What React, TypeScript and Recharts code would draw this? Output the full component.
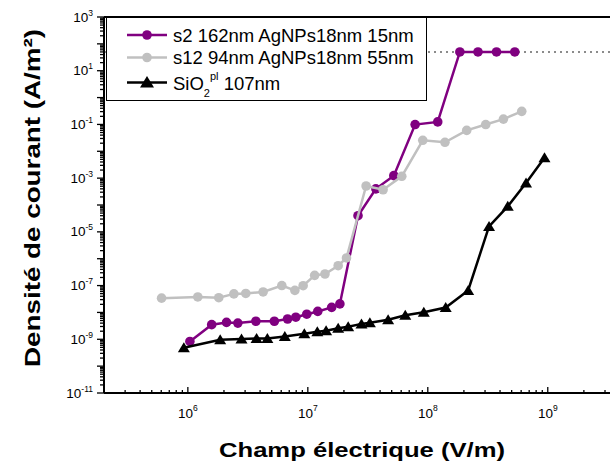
import React from 'react';
import { ScatterChart, Scatter, XAxis, YAxis, ReferenceLine, Legend } from 'recharts';

// ---- data ----
const s2Field = [1.04e6, 1.58e6, 2.1e6, 2.61e6, 3.69e6, 5.26e6, 6.78e6, 7.94e6, 9.8e6, 1.21e7, 1.58e7, 1.85e7, 2.62e7, 3.69e7, 5.21e7, 7.84e7, 1.21e8, 1.85e8, 2.62e8, 3.74e8, 5.31e8];
const s2Density = [8.3e-10, 3.5e-9, 4.25e-9, 4.0e-9, 4.7e-9, 4.7e-9, 5.7e-9, 6.65e-9, 8.6e-9, 1.09e-8, 1.54e-8, 2.08e-8, 4.0e-5, 4.0e-4, 1.24e-3, 0.099, 0.124, 50, 50, 50, 50];

const s12Field = [6.04e5, 1.21e6, 1.81e6, 2.42e6, 3.04e6, 4.24e6, 6.07e6, 7.8e6, 9.14e6, 1.14e7, 1.39e7, 1.79e7, 2.1e7, 3.06e7, 4.24e7, 6.07e7, 9.08e7, 1.39e8, 2.11e8, 3.04e8, 4.27e8, 6.07e8];
const s12Density = [3.4e-8, 3.76e-8, 3.54e-8, 4.9e-8, 5.1e-8, 5.8e-8, 1.0e-7, 6.6e-8, 9.9e-8, 2.4e-7, 2.7e-7, 5.5e-7, 1.07e-6, 5.1e-4, 3.7e-4, 1.17e-3, 0.0257, 0.0216, 0.06, 0.099, 0.158, 0.307];

const sio2Field = [9.26e5, 1.86e6, 2.8e6, 3.74e6, 4.6e6, 6.43e6, 9.35e6, 1.2e7, 1.42e7, 1.79e7, 2.17e7, 2.8e7, 3.29e7, 4.67e7, 6.49e7, 9.26e7, 1.41e8, 2.17e8, 3.24e8, 4.64e8, 6.59e8, 9.39e8];
const sio2Density = [4.85e-10, 9.6e-10, 1.03e-9, 1.08e-9, 1.08e-9, 1.28e-9, 1.61e-9, 1.91e-9, 2.09e-9, 2.59e-9, 2.94e-9, 3.74e-9, 4.15e-9, 5.37e-9, 7.9e-9, 1.02e-8, 1.53e-8, 6.6e-8, 1.6e-5, 8.9e-5, 6.65e-4, 5.7e-3];

const saturationLevel = 50;

const seriesNames = ['s2 162nm AgNPs18nm 15nm', 's12 94nm AgNPs18nm 55nm', 'SiO2pl 107nm'];

const xDomain = [2e5, 4e9];
const yDomain = [1e-11, 1e3];
const xDecadeExps = [5, 6, 7, 8, 9];
const yDecadeExps = [-11, -10, -9, -8, -7, -6, -5, -4, -3, -2, -1, 0, 1, 2, 3];
const xLabelExps = [6, 7, 8, 9];
const yLabelExps = [-11, -9, -7, -5, -3, -1, 1, 3];
const minorMultipliers = [1, 2, 3, 4, 5, 6, 7, 8, 9];

const xTicks = xDecadeExps.flatMap((e) => minorMultipliers.map((m) => m * Math.pow(10, e))).filter((v) => v >= xDomain[0] && v <= xDomain[1]);
const yTicks = yDecadeExps.flatMap((e) => minorMultipliers.map((m) => m * Math.pow(10, e))).filter((v) => v >= yDomain[0] * 0.999 && v <= yDomain[1] * 1.001);

const toRows = (xs: number[], ys: number[]) => xs.map((x, i) => ({ x, y: ys[i] }));
const s2Data = toRows(s2Field, s2Density);
const s12Data = toRows(s12Field, s12Density);
const sio2Data = toRows(sio2Field, sio2Density);

const FONT = '"Liberation Sans", Arial, Helvetica, sans-serif';
const PURPLE = '#800080';
const GRAY = '#c0c0c0';

const decadeOf = (v: number) => {
  const e = Math.round(Math.log10(v));
  return Math.abs(v - Math.pow(10, e)) / v < 1e-6 ? e : null;
};

const XTick = (props: any) => {
  const { x, y, payload } = props;
  const e = decadeOf(payload.value);
  const major = e !== null;
  return (
    <g>
      <line x1={x} x2={x} y1={y} y2={y - (major ? 6 : 3)} stroke="#000" strokeWidth={1.3} />
      {major && xLabelExps.includes(e as number) && (
        <text x={x} y={y + 25} textAnchor="middle" fontFamily={FONT} fontSize={13.5} fill="#000">
          10<tspan dy={-7} fontSize={8.5}>{e}</tspan>
        </text>
      )}
    </g>
  );
};

const YTick = (props: any) => {
  const { x, y, payload } = props;
  const e = decadeOf(payload.value);
  const major = e !== null;
  return (
    <g>
      <line x1={x} x2={x - (major ? 7 : 4)} y1={y} y2={y} stroke="#000" strokeWidth={1.3} />
      {major && yLabelExps.includes(e as number) && (
        <text x={x - 11} y={y + 4.5} textAnchor="end" fontFamily={FONT} fontSize={13.5} fill="#000">
          10<tspan dy={-6} fontSize={8.5}>{e}</tspan>
        </text>
      )}
    </g>
  );
};

const LegendBox = () => {
  const rows = [18, 40.5, 65.5];
  return (
    <svg width={322} height={84} style={{ display: 'block' }}>
      <rect x={0.5} y={0.5} width={320} height={83} fill="#fff" stroke="#000" strokeWidth={1} />
      <line x1={21} x2={61} y1={rows[0]} y2={rows[0]} stroke={PURPLE} strokeWidth={2.5} />
      <circle cx={41} cy={rows[0]} r={4.8} fill={PURPLE} />
      <text x={67} y={rows[0] + 6.5} fontFamily={FONT} fontSize={18.5} fill="#000">{seriesNames[0]}</text>
      <line x1={21} x2={61} y1={rows[1]} y2={rows[1]} stroke={GRAY} strokeWidth={2.5} />
      <circle cx={41} cy={rows[1]} r={4.8} fill={GRAY} />
      <text x={67} y={rows[1] + 6.5} fontFamily={FONT} fontSize={18.5} fill="#000">{seriesNames[1]}</text>
      <line x1={21} x2={61} y1={rows[2]} y2={rows[2]} stroke="#000" strokeWidth={2.5} />
      <polygon points={`41,${rows[2] - 6.5} ${34},${rows[2] + 5} ${48},${rows[2] + 5}`} fill="#000" />
      <text x={67} y={rows[2] + 7.5} fontFamily={FONT} fontSize={18.5} fill="#000">
        SiO<tspan dy={7} fontSize={11}>2</tspan>
        <tspan dy={-17} fontSize={11}>pl</tspan>
        <tspan dy={10} fontSize={18.5}> 107nm</tspan>
      </text>
    </svg>
  );
};

const circleShape = (color: string) => (p: any) => <circle cx={p.cx} cy={p.cy} r={4.8} fill={color} />;
const triangleShape = (p: any) => (
  <polygon points={`${p.cx},${p.cy - 5.5} ${p.cx - 6},${p.cy + 4.5} ${p.cx + 6},${p.cy + 4.5}`} fill="#000" />
);

export default function App() {
  return (
    <div style={{ position: 'fixed', left: 0, top: 0, width: 610, height: 467, overflow: 'hidden', background: '#fff' }}>
      <ScatterChart width={640} height={467} margin={{ top: 17, right: 20, bottom: 0, left: 0 }}>
        <XAxis
          type="number"
          dataKey="x"
          scale="log"
          domain={xDomain}
          ticks={xTicks}
          interval={0}
          allowDataOverflow
          tickLine={false}
          tickSize={0}
          tickMargin={0}
          tick={<XTick />}
          axisLine={{ stroke: '#000', strokeWidth: 2 }}
          height={74}
          label={{
            content: (p: any) => {
              const vb = p.viewBox || { x: 104, y: 393, width: 516 };
              return (
                <text x={vb.x + vb.width / 2} y={vb.y + 64} textAnchor="middle" fontFamily={FONT} fontWeight="bold" fontSize={21} fill="#000" textLength={286} lengthAdjust="spacingAndGlyphs">
                  Champ électrique (V/m)
                </text>
              );
            },
          }}
        />
        <YAxis
          type="number"
          dataKey="y"
          scale="log"
          domain={yDomain}
          ticks={yTicks}
          interval={0}
          allowDataOverflow
          tickLine={false}
          tickSize={0}
          tickMargin={0}
          tick={<YTick />}
          axisLine={{ stroke: '#000', strokeWidth: 2 }}
          width={104}
          label={{
            content: (p: any) => {
              const vb = p.viewBox || { x: 0, y: 17, width: 104, height: 376 };
              const cy = vb.y + vb.height / 2 - 7;
              return (
                <text x={40} y={cy} transform={`rotate(-90, 40, ${cy})`} textAnchor="middle" fontFamily={FONT} fontWeight="bold" fontSize={22} fill="#000" textLength={338} lengthAdjust="spacingAndGlyphs">
                  Densité de courant (A/m²)
                </text>
              );
            },
          }}
        />
        <ReferenceLine y={yDomain[1]} stroke="#000" strokeWidth={2} />
        <ReferenceLine y={saturationLevel} stroke="#666" strokeWidth={1.5} strokeDasharray="2 4" />
        <Scatter name={seriesNames[0]} data={s2Data} fill={PURPLE} line={{ stroke: PURPLE, strokeWidth: 2.5 }} shape={circleShape(PURPLE)} isAnimationActive={false} />
        <Scatter name={seriesNames[1]} data={s12Data} fill={GRAY} line={{ stroke: GRAY, strokeWidth: 2.5 }} shape={circleShape(GRAY)} isAnimationActive={false} />
        <Scatter name={seriesNames[2]} data={sio2Data} fill="#000" line={{ stroke: '#000', strokeWidth: 2.5 }} shape={triangleShape} isAnimationActive={false} />
        <Legend
          layout="vertical"
          align="center"
          verticalAlign="middle"
          content={() => <LegendBox />}
          wrapperStyle={{ position: 'absolute', left: 106, top: 17, width: 322, height: 84, margin: 0, padding: 0 }}
        />
      </ScatterChart>
    </div>
  );
}
